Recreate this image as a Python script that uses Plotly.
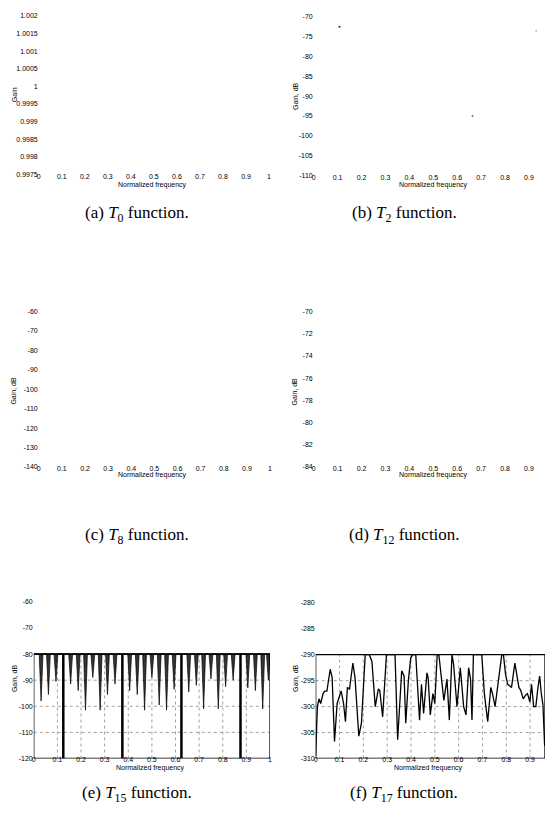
import plotly.graph_objects as go

W, H = 547, 818

# ---------------- data ----------------
x_ticks = [0, 0.1, 0.2, 0.3, 0.4, 0.5, 0.6, 0.7, 0.8, 0.9, 1.0]
x_text = ["0", "0.1", "0.2", "0.3", "0.4", "0.5", "0.6", "0.7", "0.8", "0.9", "1"]

a_yticks = [0.9975, 0.998, 0.9985, 0.999, 0.9995, 1.0, 1.0005, 1.001, 1.0015, 1.002]
a_ytext = ["0.9975", "0.998", "0.9985", "0.999", "0.9995", "1", "1.0005", "1.001", "1.0015", "1.002"]
a_pts_x = [0.905]
a_pts_y = [1.0021]

b_yticks = [-110, -105, -100, -95, -90, -85, -80, -75, -70]
b_pts_x = [0.108, 0.664, 0.93]
b_pts_y = [-72.5, -95.0, -73.5]

c_yticks = [-140, -130, -120, -110, -100, -90, -80, -70, -60]
d_yticks = [-84, -82, -80, -78, -76, -74, -72, -70]
e_yticks = [-120, -110, -100, -90, -80, -70, -60]
f_yticks = [-310, -305, -300, -295, -290, -285, -280]

# T15: notch frequencies and depths (dB), passband clipped at -80 dB
e_notch_f = [0.031, 0.062, 0.094, 0.156, 0.188, 0.219, 0.250, 0.281, 0.312, 0.344,
             0.406, 0.438, 0.469, 0.500, 0.531, 0.562, 0.594, 0.656, 0.688, 0.719,
             0.750, 0.781, 0.812, 0.844, 0.906, 0.938, 0.969, 0.993]
e_notch_d = [-98, -95.5, -90.5, -91.5, -94, -101.5, -89, -101.5, -95.5, -91.5,
             -94, -95.5, -101.5, -89, -99.5, -101.5, -93.5, -94.5, -92, -101,
             -89.5, -101, -92.5, -90, -93, -94, -101, -90]
e_null_f = [0.125, 0.375, 0.625, 0.875]
e_top = -80
e_floor = -120

# T17 gain curve
f_freq = [0.000, 0.007, 0.014, 0.021, 0.031, 0.038, 0.047, 0.061, 0.069, 0.079,
          0.090, 0.097, 0.107, 0.117, 0.125, 0.133, 0.142, 0.156, 0.165, 0.181,
          0.192, 0.208, 0.225, 0.236, 0.250, 0.263, 0.269, 0.281, 0.294, 0.297,
          0.333, 0.344, 0.361, 0.371, 0.378, 0.389, 0.399, 0.408, 0.420, 0.436,
          0.444, 0.453, 0.467, 0.472, 0.481, 0.492, 0.500, 0.510, 0.517, 0.528,
          0.538, 0.551, 0.561, 0.572, 0.579, 0.593, 0.607, 0.621, 0.631, 0.642,
          0.650, 0.656, 0.662, 0.697, 0.708, 0.722, 0.735, 0.742, 0.753, 0.767,
          0.781, 0.788, 0.797, 0.806, 0.822, 0.836, 0.847, 0.853, 0.861, 0.871,
          0.881, 0.889, 0.899, 0.906, 0.915, 0.924, 0.933, 0.940, 0.947, 0.954,
          0.961]
f_gain = [-309.5, -300.0, -298.5, -299.4, -297.5, -297.0, -297.0, -292.8, -294.4, -306.7,
          -299.4, -298.5, -297.0, -299.4, -302.9, -296.3, -296.6, -291.6, -294.4, -305.7,
          -303.2, -290.0, -290.0, -291.3, -300.0, -296.6, -296.9, -302.0, -290.0, -290.0,
          -290.0, -306.4, -293.1, -294.1, -303.2, -295.0, -290.6, -290.0, -290.0, -302.6,
          -295.7, -301.3, -293.5, -294.4, -301.6, -297.5, -299.4, -290.0, -290.0, -295.0,
          -298.8, -294.7, -302.6, -290.0, -291.9, -300.0, -292.5, -300.0, -301.6, -292.5,
          -294.7, -302.6, -290.0, -290.0, -297.5, -302.9, -296.3, -297.5, -300.0, -295.0,
          -290.0, -290.0, -293.8, -295.7, -296.3, -291.6, -295.0, -296.3, -296.9, -298.5,
          -297.8, -297.5, -299.1, -295.7, -300.0, -300.0, -296.3, -294.1, -297.5, -299.7,
          -307.6]

captions = ["(a) <i>T</i><sub>0</sub> function.", "(b) <i>T</i><sub>2</sub> function.",
            "(c) <i>T</i><sub>8</sub> function.", "(d) <i>T</i><sub>12</sub> function.",
            "(e) <i>T</i><sub>15</sub> function.", "(f) <i>T</i><sub>17</sub> function."]

# ---------------- layout helpers ----------------
def px_x(x):
    return x / W

def px_y(y):
    return 1 - y / H

TICKFONT = dict(family="Liberation Sans, Arial", size=7, color="#000")

panels = {
    1: dict(l=37, r=269, t=12, b=172, xr=[0, 1.0], yr=[0.9975, 1.002], yt=a_yticks, ytt=a_ytext, xt=11),
    2: dict(l=314, r=547, t=13, b=173, xr=[0, 0.967], yr=[-110, -70], yt=b_yticks, ytt=None, xt=10),
    3: dict(l=37, r=270, t=310, b=467, xr=[0, 1.0], yr=[-140, -60], yt=c_yticks, ytt=None, xt=11),
    4: dict(l=314, r=547, t=310, b=467, xr=[0, 0.967], yr=[-84, -70], yt=d_yticks, ytt=None, xt=10),
    5: dict(l=32, r=270, t=603, b=761, xr=[0, 1.0], yr=[-120, -60], yt=e_yticks, ytt=None, xt=11),
    6: dict(l=316, r=547, t=604, b=761, xr=[0, 0.9625], yr=[-310, -280], yt=f_yticks, ytt=None, xt=10),
}

fig = go.Figure()
layout = dict(width=W, height=H, margin=dict(l=0, r=0, t=0, b=0),
              paper_bgcolor="white", plot_bgcolor="white", showlegend=False)

for i, p in panels.items():
    xa = "xaxis" if i == 1 else f"xaxis{i}"
    ya = "yaxis" if i == 1 else f"yaxis{i}"
    ytt = p["ytt"] if p["ytt"] is not None else [str(v) for v in p["yt"]]
    layout[xa] = dict(domain=[px_x(p["l"]), px_x(p["r"])], range=p["xr"],
                      anchor=f"y{i if i > 1 else ''}", tickvals=x_ticks[:p["xt"]],
                      ticktext=x_text[:p["xt"]], showgrid=False, zeroline=False,
                      showline=False, ticks="", tickfont=TICKFONT, ticklabelstandoff=-4)
    layout[ya] = dict(domain=[px_y(p["b"]), px_y(p["t"])], range=p["yr"],
                      anchor=f"x{i if i > 1 else ''}", tickvals=p["yt"], ticktext=ytt,
                      showgrid=False, zeroline=False, showline=False, ticks="",
                      tickfont=TICKFONT, ticklabelstandoff=0)

fig.update_layout(**layout)

# ---- (a) ----
fig.add_trace(go.Scatter(x=a_pts_x, y=a_pts_y, mode="markers", cliponaxis=False,
                         marker=dict(size=2, color="black"), xaxis="x", yaxis="y"))
# ---- (b) ----
fig.add_trace(go.Scatter(x=b_pts_x, y=b_pts_y, mode="markers", cliponaxis=False,
                         marker=dict(size=2, color=["#222", "#777", "#bbb"]),
                         xaxis="x2", yaxis="y2"))
# ---- (c), (d): empty panels (curves lost in the scan) ----
fig.add_trace(go.Scatter(x=[], y=[], mode="lines", xaxis="x3", yaxis="y3"))
fig.add_trace(go.Scatter(x=[], y=[], mode="lines", xaxis="x4", yaxis="y4"))

# ---- (e) T15 ----
half_w = 0.008
ex, ey = [0.0], [e_top]
for f, d in zip(e_notch_f, e_notch_d):
    ex += [f - half_w, f, f + half_w]
    ey += [e_top, d, e_top]
ex.append(1.0)
ey.append(e_top)

grid_style = dict(color="#888", width=0.8, dash="dot")
shapes = []
for xv in x_ticks[1:10]:
    shapes.append(dict(type="line", xref="x5", yref="y5", x0=xv, x1=xv, y0=e_floor, y1=e_top, line=grid_style, layer="below"))
for yv in [v for v in e_yticks if e_floor < v < e_top]:
    shapes.append(dict(type="line", xref="x5", yref="y5", x0=0, x1=1, y0=yv, y1=yv, line=grid_style, layer="below"))
for xv in x_ticks[1:10]:
    shapes.append(dict(type="line", xref="x6", yref="y6", x0=xv, x1=xv, y0=-310, y1=-290, line=grid_style, layer="below"))
for yv in [-305, -300, -295]:
    shapes.append(dict(type="line", xref="x6", yref="y6", x0=0, x1=0.9625, y0=yv, y1=yv, line=grid_style, layer="below"))

fig.add_trace(go.Scatter(x=[0, 1], y=[e_top, e_top], mode="lines",
                         line=dict(color="black", width=1.5), xaxis="x5", yaxis="y5"))
fig.add_trace(go.Scatter(x=ex, y=ey, mode="lines", fill="tonexty",
                         fillcolor="rgba(30,30,30,0.9)",
                         line=dict(color="black", width=0.7), xaxis="x5", yaxis="y5"))
for f in e_null_f:
    fig.add_trace(go.Scatter(x=[f, f], y=[e_top, e_floor], mode="lines",
                             line=dict(color="black", width=2.5), xaxis="x5", yaxis="y5"))

shapes.append(dict(type="rect", xref="x5", yref="y5", x0=0, x1=1, y0=e_floor, y1=e_top,
                   line=dict(color="black", width=1.3)))

# ---- (f) T17 ----
fig.add_trace(go.Scatter(x=f_freq, y=f_gain, mode="lines",
                         line=dict(color="black", width=1.3), xaxis="x6", yaxis="y6"))
shapes.append(dict(type="rect", xref="x6", yref="y6", x0=0, x1=0.9625, y0=-310, y1=-290,
                   line=dict(color="black", width=1.3)))

fig.update_layout(shapes=shapes)

# ---- annotations: axis titles and captions ----
ann = []
LBL = dict(family="Liberation Sans, Arial", size=7, color="#000")
ylab = [("Gain", 12, 91), ("Gain, dB", 295, 93), ("Gain, dB", 12, 390),
        ("Gain, dB", 295, 391), ("Gain, dB", 12, 680), ("Gain, dB", 295, 680)]
for t, x, y in ylab:
    ann.append(dict(text=t, x=px_x(x), y=px_y(y), xref="paper", yref="paper",
                    showarrow=False, textangle=-90, font=LBL, xanchor="center", yanchor="middle"))
xlab = [(152, 183), (435, 183), (152, 475), (435, 475), (150, 771), (430, 771)]
for x, y in xlab:
    ann.append(dict(text="Normalized frequency", x=px_x(x), y=px_y(y), xref="paper", yref="paper",
                    showarrow=False, font=LBL, xanchor="center", yanchor="middle"))
cap_pos = [(136, 212), (405, 212), (136, 537), (405, 537), (136, 797), (405, 797)]
for t, (x, y) in zip(captions, cap_pos):
    ann.append(dict(text=t, x=px_x(x), y=px_y(y), xref="paper", yref="paper",
                    showarrow=False, xanchor="center", yanchor="middle",
                    font=dict(family="Liberation Serif, Times New Roman", size=17, color="black")))
fig.update_layout(annotations=ann)

fig.write_html("out.html", config={"displayModeBar": False},
               post_script="document.body.style.margin='0';document.body.style.overflow='hidden';")
